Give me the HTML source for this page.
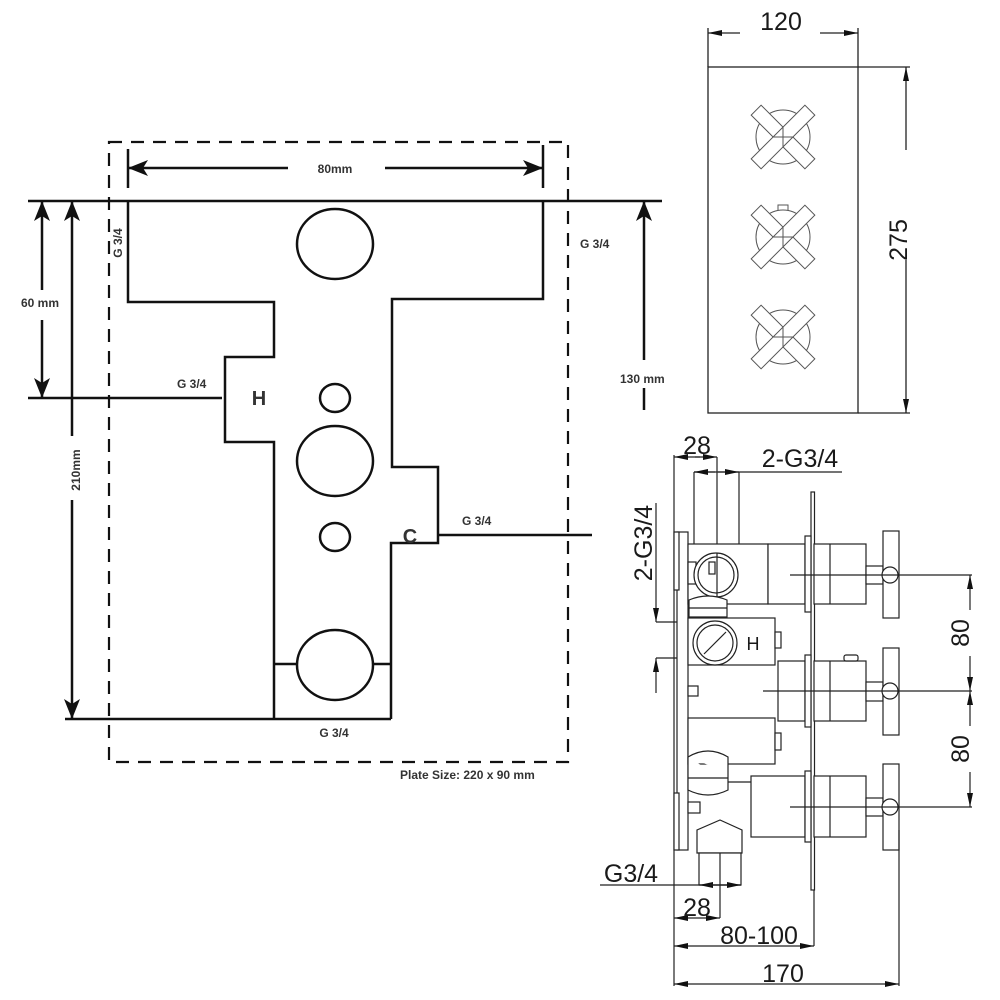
<!DOCTYPE html>
<html><head><meta charset="utf-8"><style>
html,body{margin:0;padding:0;background:#fff;}
svg{display:block;}
.b{font-family:"Liberation Sans",sans-serif;font-weight:bold;fill:#333;}
.t{font-family:"Liberation Sans",sans-serif;fill:#1a1a1a;}
</style></head><body>
<svg width="1000" height="1000" viewBox="0 0 1000 1000" xmlns="http://www.w3.org/2000/svg">
<defs>
<marker id="ab" viewBox="0 0 20 16" refX="20" refY="8" markerWidth="20" markerHeight="16" markerUnits="userSpaceOnUse" orient="auto"><path d="M0,0 L20,8 L0,16 L5,8 Z" fill="#111"/></marker>
<marker id="as" viewBox="0 0 14 6" refX="14" refY="3" markerWidth="14" markerHeight="6" markerUnits="userSpaceOnUse" orient="auto"><path d="M0,0 L14,3 L0,6 Z" fill="#111"/></marker>
</defs>

<!-- LEFT DIAGRAM -->
<g stroke="#111" stroke-width="2.5" fill="none">
<rect x="109" y="142" width="459" height="620" stroke-dasharray="13,9" stroke-width="2.2"/>
<line x1="28" y1="201" x2="662" y2="201"/>
<line x1="28" y1="398" x2="222" y2="398"/>
<line x1="438" y1="535" x2="592" y2="535"/>
<line x1="65" y1="719" x2="391" y2="719"/>
<path d="M128,201 V302 H274 V357 H225 V442 H274 V719 M543,201 V299 H392 V467 H438 V543 H391 V719"/>
<line x1="274" y1="664" x2="298" y2="664"/>
<line x1="372" y1="664" x2="391" y2="664"/>
<ellipse cx="335" cy="244" rx="38" ry="35"/>
<ellipse cx="335" cy="461" rx="38" ry="35"/>
<ellipse cx="335" cy="665" rx="38" ry="35"/>
<ellipse cx="335" cy="398" rx="15" ry="14"/>
<ellipse cx="335" cy="537" rx="15" ry="14"/>
<line x1="128" y1="149" x2="128" y2="188"/>
<line x1="543" y1="145" x2="543" y2="188"/>
<line x1="288" y1="168" x2="128" y2="168" marker-end="url(#ab)"/>
<line x1="385" y1="168" x2="543" y2="168" marker-end="url(#ab)"/>
<line x1="42" y1="290" x2="42" y2="201" marker-end="url(#ab)"/>
<line x1="42" y1="320" x2="42" y2="398" marker-end="url(#ab)"/>
<line x1="72" y1="436" x2="72" y2="201" marker-end="url(#ab)"/>
<line x1="72" y1="500" x2="72" y2="719" marker-end="url(#ab)"/>
<line x1="644" y1="360" x2="644" y2="201" marker-end="url(#ab)"/>
<line x1="644" y1="388" x2="644" y2="410"/>
</g>
<text class="b" x="335" y="173" font-size="12" text-anchor="middle">80mm</text>
<text class="b" x="40" y="307" font-size="12" text-anchor="middle">60 mm</text>
<text class="b" x="76" y="470" font-size="12" text-anchor="middle" transform="rotate(-90 76 470)" dy="4">210mm</text>
<text class="b" x="122" y="243" font-size="12" text-anchor="middle" transform="rotate(-90 122 243)">G 3/4</text>
<text class="b" x="177" y="388" font-size="12">G 3/4</text>
<text class="b" x="580" y="248" font-size="12">G 3/4</text>
<text class="b" x="462" y="525" font-size="12">G 3/4</text>
<text class="b" x="334" y="737" font-size="12" text-anchor="middle">G 3/4</text>
<text class="b" x="620" y="383" font-size="12">130 mm</text>
<text class="b" x="400" y="779" font-size="12">Plate Size: 220 x 90 mm</text>
<text class="b" x="259" y="405" font-size="20" text-anchor="middle">H</text>
<text class="b" x="410" y="543" font-size="20" text-anchor="middle">C</text>

<!-- FRONT VIEW -->
<g stroke="#222" stroke-width="1.3" fill="none">
<rect x="708" y="67" width="150" height="346"/>
<line x1="708" y1="28" x2="708" y2="67"/>
<line x1="858" y1="28" x2="858" y2="67"/>
<line x1="858" y1="67" x2="910" y2="67"/>
<line x1="858" y1="413" x2="910" y2="413"/>
<line x1="740" y1="33" x2="708" y2="33" marker-end="url(#as)"/>
<line x1="820" y1="33" x2="858" y2="33" marker-end="url(#as)"/>
<line x1="906" y1="150" x2="906" y2="67" marker-end="url(#as)"/>
<line x1="906" y1="260" x2="906" y2="413" marker-end="url(#as)"/>
</g>
<g stroke="#555" stroke-width="1" fill="#fff">
<g transform="translate(783,137)"><circle r="27"/><rect x="-38" y="-7" width="76" height="14" transform="rotate(45)"/><rect x="-38" y="-7" width="76" height="14" transform="rotate(-45)"/><path d="M-10,0H10M0,-10V10" fill="none"/></g>
<g transform="translate(783,237)"><rect x="-5" y="-32" width="10" height="7"/><circle r="27"/><rect x="-38" y="-7" width="76" height="14" transform="rotate(45)"/><rect x="-38" y="-7" width="76" height="14" transform="rotate(-45)"/><path d="M-10,0H10M0,-10V10" fill="none"/></g>
<g transform="translate(783,337)"><circle r="27"/><rect x="-38" y="-7" width="76" height="14" transform="rotate(45)"/><rect x="-38" y="-7" width="76" height="14" transform="rotate(-45)"/><path d="M-10,0H10M0,-10V10" fill="none"/></g>
</g>
<text class="t" x="781" y="30" font-size="25" text-anchor="middle">120</text>
<text class="t" x="898" y="240" font-size="25" text-anchor="middle" transform="rotate(-90 898 240)" dy="9">275</text>

<!-- SIDE VIEW -->
<g stroke="#222" stroke-width="1.2" fill="#fff">
<line x1="674" y1="455" x2="674" y2="986" fill="none"/>
<line x1="717" y1="457" x2="717" y2="573"/>
<line x1="694" y1="472" x2="694" y2="545"/>
<line x1="739" y1="472" x2="739" y2="570"/>
<line x1="739" y1="472" x2="842" y2="472"/>
<line x1="694" y1="472" x2="739" y2="472"/>
<line x1="700" y1="457" x2="674" y2="457" marker-end="url(#as)"/>
<line x1="695" y1="457" x2="717" y2="457" marker-end="url(#as)"/>
<line x1="715" y1="472" x2="694" y2="472" marker-end="url(#as)"/>
<line x1="718" y1="472" x2="739" y2="472" marker-end="url(#as)"/>
<line x1="656" y1="503" x2="656" y2="622" marker-end="url(#as)"/>
<line x1="656" y1="693" x2="656" y2="658" marker-end="url(#as)"/>
<line x1="656" y1="622" x2="690" y2="622"/>
<line x1="656" y1="658" x2="690" y2="658"/>
<rect x="677" y="532" width="11" height="318"/>
<rect x="674" y="532" width="5" height="58"/>
<rect x="674" y="793" width="5" height="57"/>
<rect x="811" y="492" width="3.5" height="398"/>
<rect x="688" y="544" width="80" height="60"/>
<rect x="768" y="544" width="37" height="60"/>
<rect x="805" y="536" width="6" height="76"/>
<rect x="814" y="544" width="52" height="60"/>
<line x1="830" y1="544" x2="830" y2="604"/>
<rect x="866" y="566" width="17" height="18"/>
<rect x="883" y="531" width="16" height="87"/>
<circle cx="890" cy="575" r="8"/>
<rect x="688" y="562" width="8" height="22"/>
<circle cx="716" cy="575" r="22"/><circle cx="716" cy="575" r="18"/>
<line x1="717" y1="553" x2="717" y2="597"/>
<rect x="709" y="562" width="6" height="12"/>
<path d="M689,617 V600 Q708,592 727,600 V617 Z"/>
<line x1="689" y1="608" x2="727" y2="608"/>
<rect x="688" y="618" width="87" height="47"/>
<rect x="775" y="632" width="6" height="16"/>
<circle cx="715" cy="643" r="22"/><circle cx="715" cy="643" r="18"/>
<line x1="704" y1="654" x2="726" y2="632"/>
<text class="t" x="753" y="650" font-size="18" text-anchor="middle" stroke="none" fill="#222" font-family="Liberation Serif">H</text>
<rect x="778" y="661" width="27" height="60"/>
<rect x="805" y="655" width="6" height="72"/>
<rect x="814" y="661" width="52" height="60"/>
<line x1="830" y1="661" x2="830" y2="721"/>
<rect x="844" y="655" width="14" height="6" rx="2"/>
<rect x="866" y="682" width="17" height="19"/>
<rect x="883" y="648" width="16" height="87"/>
<circle cx="890" cy="691" r="8"/>
<rect x="688" y="686" width="10" height="10"/>
<rect x="688" y="718" width="87" height="46"/>
<rect x="775" y="733" width="6" height="17"/>
<path d="M688,757 Q708,745 728,757 V782 H751 M688,757 V790 Q708,800 728,790 V782"/>
<line x1="688" y1="778" x2="728" y2="778"/>
<rect x="751" y="776" width="54" height="61"/>
<rect x="805" y="771" width="6" height="71"/>
<rect x="814" y="776" width="52" height="61"/>
<line x1="830" y1="776" x2="830" y2="837"/>
<rect x="866" y="798" width="17" height="18"/>
<rect x="883" y="764" width="16" height="86"/>
<circle cx="890" cy="807" r="8"/>
<rect x="688" y="802" width="12" height="11"/>
<path d="M697,853 V830 L720,820 L742,830 V853 Z"/>
<rect x="699" y="853" width="42" height="32"/>
<line x1="720" y1="853" x2="720" y2="918"/>
<line x1="790" y1="575" x2="972" y2="575"/>
<line x1="763" y1="691" x2="972" y2="691"/>
<line x1="790" y1="807" x2="972" y2="807"/>
<line x1="970" y1="610" x2="970" y2="575" marker-end="url(#as)"/>
<line x1="970" y1="656" x2="970" y2="691" marker-end="url(#as)"/>
<line x1="970" y1="726" x2="970" y2="691" marker-end="url(#as)"/>
<line x1="970" y1="772" x2="970" y2="807" marker-end="url(#as)"/>
<line x1="600" y1="885" x2="741" y2="885"/>
<line x1="710" y1="885" x2="699" y2="885" marker-end="url(#as)"/>
<line x1="710" y1="885" x2="741" y2="885" marker-end="url(#as)"/>
<line x1="700" y1="918" x2="674" y2="918" marker-end="url(#as)"/>
<line x1="700" y1="918" x2="720" y2="918" marker-end="url(#as)"/>
<line x1="814" y1="890" x2="814" y2="946"/>
<line x1="740" y1="946" x2="674" y2="946" marker-end="url(#as)"/>
<line x1="740" y1="946" x2="814" y2="946" marker-end="url(#as)"/>
<line x1="899" y1="830" x2="899" y2="986"/>
<line x1="780" y1="984" x2="674" y2="984" marker-end="url(#as)"/>
<line x1="780" y1="984" x2="899" y2="984" marker-end="url(#as)"/>
</g>
<g class="t" font-size="25">
<text x="697" y="454" text-anchor="middle">28</text>
<text x="800" y="467" text-anchor="middle">2-G3/4</text>
<text x="643" y="543" text-anchor="middle" transform="rotate(-90 643 543)" dy="9">2-G3/4</text>
<text x="960" y="633" text-anchor="middle" transform="rotate(-90 960 633)" dy="9">80</text>
<text x="960" y="749" text-anchor="middle" transform="rotate(-90 960 749)" dy="9">80</text>
<text x="631" y="882" text-anchor="middle">G3/4</text>
<text x="697" y="916" text-anchor="middle">28</text>
<text x="759" y="944" text-anchor="middle">80-100</text>
<text x="783" y="982" text-anchor="middle">170</text>
</g>
</svg>
</body></html>
